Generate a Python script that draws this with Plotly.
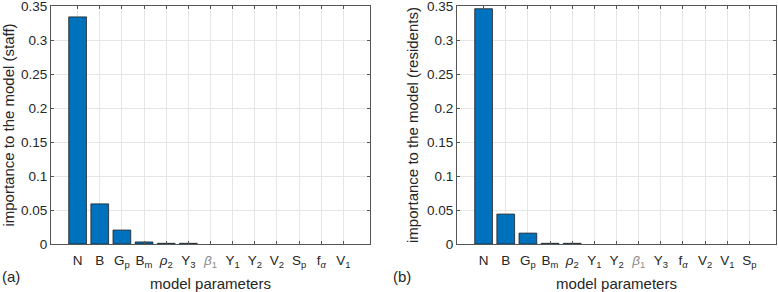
import plotly.graph_objects as go

# parameter order and importance values for each panel
params_staff = ["N", "B", "G<sub>p</sub>", "B<sub>m</sub>", "<i>ρ</i><sub>2</sub>", "Y<sub>3</sub>",
                "<span style='color:#8a8a8a'><i>β</i><sub>1</sub></span>", "Y<sub>1</sub>", "Y<sub>2</sub>",
                "V<sub>2</sub>", "S<sub>p</sub>", "f<sub><i>α</i></sub>", "V<sub>1</sub>"]
importance_staff = [0.334, 0.059, 0.0205, 0.003, 0.001, 0.001, 0, 0, 0, 0, 0, 0, 0]

params_res = ["N", "B", "G<sub>p</sub>", "B<sub>m</sub>", "<i>ρ</i><sub>2</sub>", "Y<sub>1</sub>", "Y<sub>2</sub>",
              "<span style='color:#8a8a8a'><i>β</i><sub>1</sub></span>", "Y<sub>3</sub>",
              "f<sub><i>α</i></sub>", "V<sub>2</sub>", "V<sub>1</sub>", "S<sub>p</sub>"]
importance_res = [0.346, 0.044, 0.016, 0.001, 0.001, 0, 0, 0, 0, 0, 0, 0, 0]

y_max = 0.35
y_step = 0.05

W, H = 778, 292
TXT = "#262626"
BAR = "#0072BD"


def bar(values, xa, ya):
    return go.Bar(x=list(range(len(values))), y=values, width=0.8,
                  marker=dict(color=BAR, line=dict(color="#1e1e1e",
                                                   width=[0.8 if v > 0 else 0 for v in values])),
                  xaxis=xa, yaxis=ya, showlegend=False, hoverinfo="skip")


fig = go.Figure()
fig.add_trace(bar(importance_staff, "x", "y"))
fig.add_trace(bar(importance_res, "x2", "y2"))

y_dom = [(H - 244) / H, (H - 6) / H]


def xax(domain, labels, anchor):
    return dict(domain=domain, anchor=anchor, range=[-1.2, len(labels) - 1 + 1.2],
                tickvals=list(range(len(labels))), ticktext=labels,
                tickfont=dict(size=13.5, color=TXT), ticks="inside", ticklen=3, tickcolor="#555",
                ticklabelstandoff=4,
                showgrid=True, gridcolor="#e6e6e6", gridwidth=1,
                showline=True, linecolor="#555", linewidth=1, mirror="ticks",
                zeroline=False, fixedrange=True, automargin=False,
                title=dict(text="model parameters", font=dict(size=15, color=TXT), standoff=12))


def yax(anchor, title):
    return dict(domain=y_dom, anchor=anchor, range=[0, y_max],
                tickmode="linear", tick0=0, dtick=y_step,
                tickfont=dict(size=13.5, color=TXT), ticks="inside", ticklen=3, tickcolor="#555",
                ticklabeloverflow="allow",
                showgrid=True, gridcolor="#e6e6e6", gridwidth=1,
                showline=True, linecolor="#555", linewidth=1, mirror="ticks",
                zeroline=False, fixedrange=True, automargin=False,
                title=dict(text=title, font=dict(size=15, color=TXT), standoff=4))


fig.update_layout(
    width=W, height=H,
    margin=dict(l=0, r=0, t=0, b=0),
    paper_bgcolor="white", plot_bgcolor="white",
    font=dict(family="Liberation Sans, Arial, sans-serif", color=TXT),
    xaxis=xax([51 / W, 370 / W], params_staff, "y"),
    yaxis=yax("x", "importance to the model (staff)"),
    xaxis2=xax([457 / W, 776 / W], params_res, "y2"),
    yaxis2=yax("x2", "importance to the model (residents)"),
    annotations=[
        dict(text="(a)", x=0, y=(H - 276) / H, xref="paper", yref="paper",
             xanchor="left", yanchor="middle", showarrow=False, font=dict(size=15, color=TXT)),
        dict(text="(b)", x=391 / W, y=(H - 276) / H, xref="paper", yref="paper",
             xanchor="left", yanchor="middle", showarrow=False, font=dict(size=15, color=TXT)),
    ],
)

fig.write_html("out.html", config={"displayModeBar": False},
               post_script="document.body.style.margin='0';")
